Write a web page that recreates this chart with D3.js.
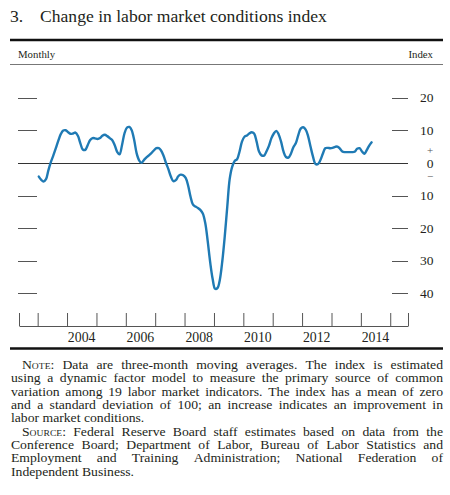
<!DOCTYPE html>
<html>
<head>
<meta charset="utf-8">
<script src="https://cdn.jsdelivr.net/npm/d3@7"></script>
<style>
  html, body { margin: 0; padding: 0; background: #fff; }
  svg { display: block; }
  text { font-family: "Liberation Serif", "Times New Roman", serif; fill: #231f20; }
</style>
</head>
<body>
<svg id="chart" width="450" height="495"></svg>
<script>
// ---- data ----
const title = "Change in labor market conditions index";
const titleNumber = "3.";
const leftHeader = "Monthly";
const rightHeader = "Index";
const startMonth = "2003-01";           // first monthly observation
// monthly values, Jan 2003 .. May 2014 (three-month moving averages)
const values = [
  -4.2, -5.2, -5.7, -5.0, -2.2, 0.3, 2.3, 4.5, 6.8, 8.8, 9.9, 10.0,      // 2003
  9.4, 8.9, 9.0, 9.3, 8.3, 6.0, 4.1, 4.0, 5.5, 7.0, 7.6, 7.5,            // 2004
  7.3, 7.6, 8.3, 8.6, 8.2, 7.6, 7.0, 5.5, 3.4, 2.6, 5.5, 9.0,            // 2005
  10.8, 11.0, 10.0, 7.0, 3.0, 0.8, 0.0, 0.9, 1.7, 2.3, 3.0, 3.8,         // 2006
  4.5, 4.5, 3.8, 2.2, 0.0, -2.0, -4.2, -5.6, -5.3, -4.1, -3.6, -3.8,     // 2007
  -4.6, -7.0, -10.3, -12.8, -13.4, -13.8, -14.4, -15.5, -18.5, -24.0, -30.5, -35.5, // 2008
  -38.6, -38.3, -35.8, -30.0, -22.5, -13.5, -5.0, -1.2, 0.6, 1.1, 3.5, 6.5,         // 2009
  8.0, 8.4, 9.0, 9.4, 9.0, 6.5, 3.5, 2.3, 2.2, 3.5, 5.2, 7.5,            // 2010
  9.0, 9.8, 8.8, 6.5, 3.5, 1.8, 1.6, 2.8, 4.8, 6.0, 8.5, 10.5,           // 2011
  10.9, 10.2, 8.3, 5.0, 2.0, -0.3, -0.4, 0.8, 2.8, 4.5, 4.6, 4.5,        // 2012
  4.6, 4.9, 5.0, 4.4, 3.5, 3.3, 3.3, 3.3, 3.3, 3.4, 4.3, 4.5,            // 2013
  3.5, 2.8, 3.9, 5.3, 6.3                                                // 2014
];
const yTicks = [20, 10, 0, -10, -20, -30, -40];
const yDomain = [-50, 30];
const xDomain = ["2002-05-14", "2015-08-10"];
const yearTicks = d3.range(2003, 2016);
const yearLabels = [2004, 2006, 2008, 2010, 2012, 2014];

const noteLines = [
  ["Note:", "Data are three-month moving averages. The index is estimated"],
  ["", "using a dynamic factor model to measure the primary source of common"],
  ["", "variation among 19 labor market indicators. The index has a mean of zero"],
  ["", "and a standard deviation of 100; an increase indicates an improvement in"],
  ["", "labor market conditions."]
];
const sourceLines = [
  ["Source:", "Federal Reserve Board staff estimates based on data from the"],
  ["", "Conference Board; Department of Labor, Bureau of Labor Statistics and"],
  ["", "Employment and Training Administration; National Federation of"],
  ["", "Independent Business."]
];

// ---- layout ----
const svg = d3.select("#chart");
const plotL = 19, plotR = 408, plotT = 65, plotB = 326;
const ruleL = 10, ruleR = 443;

const parse = d3.timeParse("%Y-%m-%d");
const start = d3.timeParse("%Y-%m")(startMonth);
const series = values.map((v, i) => ({ date: d3.timeDay.offset(d3.timeMonth.offset(start, i), 14), value: v }));

const x = d3.scaleTime().domain(xDomain.map(parse)).range([plotL, plotR]);
const y = d3.scaleLinear().domain(yDomain).range([plotB, plotT]);

// title
const tt = svg.append("text").attr("x", 10).attr("y", 22).style("font-size", "17.6px");
tt.append("tspan").text(titleNumber);
tt.append("tspan").attr("x", 40).text(title);

// rules
svg.append("line").attr("x1", ruleL).attr("x2", ruleR).attr("y1", 40).attr("y2", 40)
  .attr("stroke", "#111").attr("stroke-width", 2.5);
svg.append("line").attr("x1", ruleL).attr("x2", ruleR).attr("y1", 64.5).attr("y2", 64.5)
  .attr("stroke", "#777").attr("stroke-width", 1);
svg.append("line").attr("x1", ruleL).attr("x2", ruleR).attr("y1", 348.5).attr("y2", 348.5)
  .attr("stroke", "#111").attr("stroke-width", 2.5);

svg.append("text").attr("x", 18).attr("y", 58).style("font-size", "10.8px").text(leftHeader);
svg.append("text").attr("x", 433).attr("y", 58).attr("text-anchor", "end").style("font-size", "10.8px").text(rightHeader);

// y ticks: short dashes on left and right, labels on right
const nonZero = yTicks.filter(d => d !== 0);
svg.append("g").selectAll("line").data(nonZero).join("line")
  .attr("x1", 18).attr("x2", 37)
  .attr("y1", d => Math.round(y(d)) + 0.5).attr("y2", d => Math.round(y(d)) + 0.5)
  .attr("stroke", "#555").attr("stroke-width", 1);
svg.append("g").selectAll("line").data(nonZero).join("line")
  .attr("x1", 392).attr("x2", 408)
  .attr("y1", d => Math.round(y(d)) + 0.5).attr("y2", d => Math.round(y(d)) + 0.5)
  .attr("stroke", "#555").attr("stroke-width", 1);
svg.append("g").selectAll("text").data(yTicks).join("text")
  .attr("x", 433.5).attr("y", d => y(d)).attr("dy", "0.35em")
  .attr("text-anchor", "end").style("font-size", "13.5px")
  .text(d => Math.abs(d));
svg.append("text").attr("x", 430).attr("y", y(0) - 13).attr("dy", "0.35em")
  .attr("text-anchor", "middle").style("font-size", "11px").style("fill", "#555").text("+");
svg.append("text").attr("x", 430).attr("y", y(0) + 13).attr("dy", "0.35em")
  .attr("text-anchor", "middle").style("font-size", "11px").style("fill", "#555").text("\u2212");

// zero line
svg.append("line").attr("x1", 18).attr("x2", 408)
  .attr("y1", Math.round(y(0)) + 0.5).attr("y2", Math.round(y(0)) + 0.5)
  .attr("stroke", "#333").attr("stroke-width", 1);

// x axis
const xAxisG = svg.append("g").attr("transform", `translate(0,${plotB})`);
const tickDates = [x.domain()[0], ...yearTicks.map(yv => new Date(yv, 0, 1)), x.domain()[1]];
xAxisG.call(d3.axisTop(x).tickValues(tickDates).tickSize(13).tickSizeOuter(0).tickFormat(""));
xAxisG.select(".domain").attr("stroke", "#555");
xAxisG.selectAll(".tick line").attr("stroke", "#555");
svg.append("g").selectAll("text").data(yearLabels).join("text")
  .attr("x", d => x(new Date(d, 6, 1))).attr("y", 342)
  .attr("text-anchor", "middle").style("font-size", "13.8px")
  .text(d => d);

// line
const line = d3.line().x(d => x(d.date)).y(d => y(d.value)).curve(d3.curveCatmullRom);
svg.append("path").datum(series).attr("d", line)
  .attr("fill", "none").attr("stroke", "#1f7ab4").attr("stroke-width", 2.4)
  .attr("stroke-linejoin", "round").attr("stroke-linecap", "round");

// notes, justified (slightly widened glyphs to match the reference typeface)
function para(lines, y0, lh, fs, sx) {
  lines.forEach((ln, i) => {
    const isLast = i === lines.length - 1;
    const x0 = ln[0] ? 22 : 11;
    const t = svg.append("text")
      .attr("transform", `translate(${x0},${y0 + i * lh}) scale(${sx},1)`)
      .style("font-size", fs + "px");
    const words = [];
    if (ln[0]) words.push(t.append("tspan").style("font-variant", "small-caps").text(ln[0]));
    ln[1].split(" ").forEach(w => words.push(t.append("tspan").text(w)));
    const widths = words.map(s => s.node().getComputedTextLength());
    const total = d3.sum(widths);
    const avail = (ruleR - x0) / sx;
    const gap = isLast ? fs * 0.25 : (avail - total) / (words.length - 1);
    let cx = 0;
    words.forEach((s, k) => { s.attr("x", cx); cx += widths[k] + gap; });
  });
}
para(noteLines, 369, 13.32, 11.9, 1.15);
para(sourceLines, 369 + 5 * 13.32, 13.32, 11.9, 1.15);
</script>
</body>
</html>
